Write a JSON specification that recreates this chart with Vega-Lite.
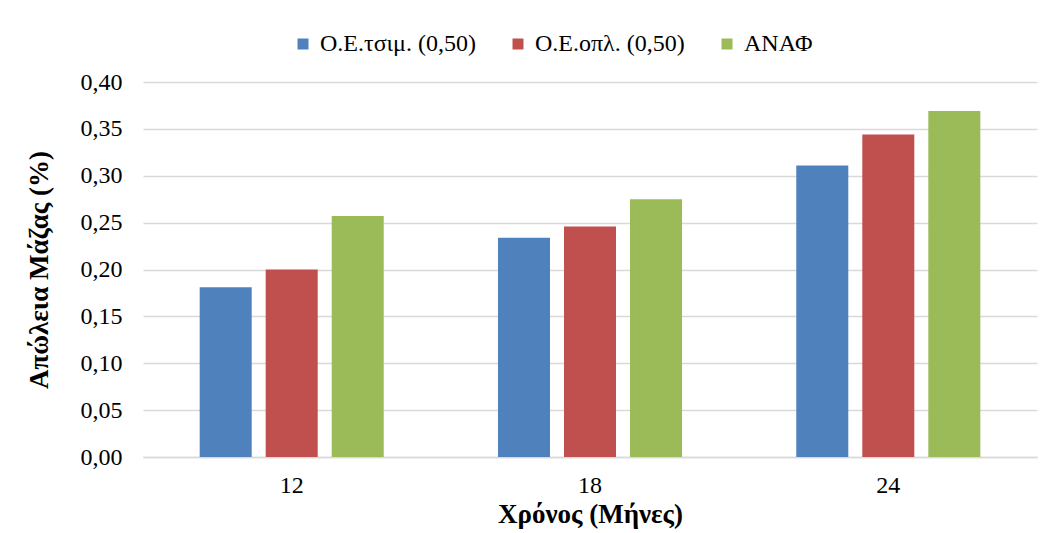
{
  "$schema": "https://vega.github.io/schema/vega-lite/v6.json",
  "width": 894,
  "height": 375,
  "autosize": "none",
  "padding": {"left": 143, "top": 82, "right": 22, "bottom": 76},
  "background": "white",
  "config": {
    "view": {"stroke": null},
    "font": "Liberation Serif",
    "axis": {"labelFont": "Liberation Serif", "titleFont": "Liberation Serif", "labelColor": "#000000", "titleColor": "#000000"},
    "legend": {"labelFont": "Liberation Serif"}
  },
  "data": {
    "values": [
      {"month": "12", "series": "Ο.Ε.τσιμ. (0,50)", "value": 0.181},
      {"month": "12", "series": "Ο.Ε.οπλ. (0,50)", "value": 0.200},
      {"month": "12", "series": "ΑΝΑΦ", "value": 0.257},
      {"month": "18", "series": "Ο.Ε.τσιμ. (0,50)", "value": 0.234},
      {"month": "18", "series": "Ο.Ε.οπλ. (0,50)", "value": 0.246},
      {"month": "18", "series": "ΑΝΑΦ", "value": 0.275},
      {"month": "24", "series": "Ο.Ε.τσιμ. (0,50)", "value": 0.311},
      {"month": "24", "series": "Ο.Ε.οπλ. (0,50)", "value": 0.344},
      {"month": "24", "series": "ΑΝΑΦ", "value": 0.369}
    ]
  },
  "mark": {"type": "bar"},
  "encoding": {
    "x": {
      "field": "month",
      "type": "nominal",
      "sort": ["12", "18", "24"],
      "scale": {"paddingInner": 0.383, "paddingOuter": 0.19},
      "axis": {
        "title": "Χρόνος (Μήνες)",
        "titleFont": "Liberation Serif",
        "titleFontSize": 27,
        "titleFontWeight": "bold",
        "titlePadding": 4,
        "labelAngle": 0,
        "labelFont": "Liberation Serif",
        "labelFontSize": 24,
        "labelPadding": 16,
        "ticks": false,
        "domain": true,
        "domainColor": "#d9d9d9",
        "domainWidth": 1.5,
        "grid": false
      }
    },
    "xOffset": {
      "field": "series",
      "type": "nominal",
      "sort": ["Ο.Ε.τσιμ. (0,50)", "Ο.Ε.οπλ. (0,50)", "ΑΝΑΦ"],
      "scale": {"paddingInner": 0.212, "paddingOuter": 0}
    },
    "y": {
      "field": "value",
      "type": "quantitative",
      "scale": {"domain": [0, 0.4], "nice": false, "zero": true},
      "axis": {
        "title": "Απώλεια Μάζας (%)",
        "titleFont": "Liberation Serif",
        "titleFontSize": 27,
        "titleFontWeight": "bold",
        "titlePadding": 27,
        "values": [0, 0.05, 0.1, 0.15, 0.2, 0.25, 0.3, 0.35, 0.4],
        "labelExpr": "replace(format(datum.value, '.2f'), '.', ',')",
        "labelFont": "Liberation Serif",
        "labelFontSize": 24,
        "labelPadding": 21,
        "ticks": false,
        "domain": false,
        "grid": true,
        "gridColor": "#d9d9d9",
        "gridWidth": 1.5
      }
    },
    "color": {
      "field": "series",
      "type": "nominal",
      "sort": ["Ο.Ε.τσιμ. (0,50)", "Ο.Ε.οπλ. (0,50)", "ΑΝΑΦ"],
      "scale": {
        "domain": ["Ο.Ε.τσιμ. (0,50)", "Ο.Ε.οπλ. (0,50)", "ΑΝΑΦ"],
        "range": ["#4f81bd", "#c0504d", "#9bbb59"]
      },
      "legend": {
        "title": null,
        "orient": "none",
        "direction": "horizontal",
        "legendX": 148,
        "legendY": -50,
        "symbolType": "square",
        "symbolSize": 121,
        "symbolStrokeWidth": 0,
        "labelFont": "Liberation Serif",
        "labelFontSize": 24,
        "labelOffset": 5,
        "columnPadding": 30,
        "labelColor": "#000000"
      }
    }
  }
}
